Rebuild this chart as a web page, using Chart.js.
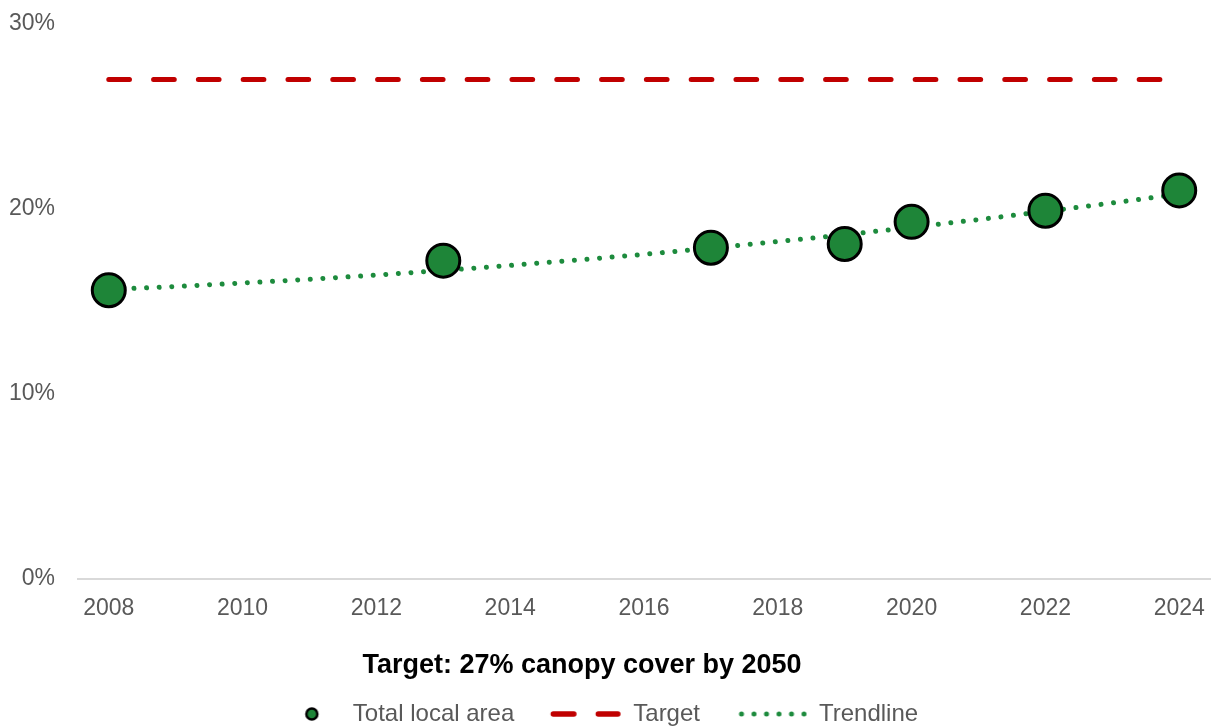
<!DOCTYPE html>
<html>
<head>
<meta charset="utf-8">
<title>Canopy cover</title>
<script src="https://cdn.jsdelivr.net/npm/chart.js@4.4.1/dist/chart.umd.min.js"></script>
<style>
    html, body { margin: 0; padding: 0; background: #fff; }
    #wrap { width: 1216px; height: 726px; position: relative; }
</style>
</head>
<body>
<div id="wrap"><canvas id="lineChart"></canvas></div>
<script>
// survey years and canopy cover (%)
var surveyYears = [2008, 2013, 2017, 2019, 2020, 2022, 2024];
var canopyCover = [15.6, 17.2, 17.9, 18.1, 19.3, 19.9, 21.0];

// target line
var targetYears = [2008, 2024];
var targetValues = [27, 27];

// trendline
var trendYears = [2008, 2009, 2010, 2011, 2012, 2013, 2014, 2015, 2016, 2017, 2018, 2019, 2020, 2021, 2022, 2023, 2024];
var trendValues = [15.64, 15.80, 15.99, 16.19, 16.42, 16.67, 16.94, 17.23, 17.54, 17.88, 18.23, 18.60, 19.00, 19.42, 19.86, 20.32, 20.80];

// axis ticks
var xTicks = [2008, 2010, 2012, 2014, 2016, 2018, 2020, 2022, 2024];
var yTicks = [0, 10, 20, 30];

var seriesNames = ["Total local area", "Target", "Trendline"];
var chartTitle = "Target: 27% canopy cover by 2050";

var GREEN = "#1e8538";
var DOT_GREEN = "#1d8b3d";
var RED = "#c00000";
var GREY = "#595959";

function toPoints(xs, ys) {
    return xs.map(function (x, i) { return { x: x, y: ys[i] }; });
}

// legend symbols, drawn into small canvases
function makeSymbol(draw) {
    var c = document.createElement("canvas");
    c.width = 120;
    c.height = 20;
    draw(c.getContext("2d"));
    return c;
}

var legendSymbols = [
    makeSymbol(function (g) {
        g.beginPath();
        g.arc(78.5, 10, 5.5, 0, Math.PI * 2);
        g.fillStyle = GREEN;
        g.fill();
        g.lineWidth = 2.5;
        g.strokeStyle = "#000";
        g.stroke();
    }),
    makeSymbol(function (g) {
        g.lineWidth = 5.5;
        g.lineCap = "round";
        g.strokeStyle = RED;
        g.beginPath();
        g.moveTo(39.5, 10); g.lineTo(60, 10);
        g.moveTo(84.5, 10); g.lineTo(104, 10);
        g.stroke();
    }),
    makeSymbol(function (g) {
        g.fillStyle = DOT_GREEN;
        for (var i = 0; i < 6; i++) {
            g.beginPath();
            g.arc(42 + i * 12.5, 10, 2.5, 0, Math.PI * 2);
            g.fill();
        }
    })
];

Chart.defaults.font.family = "'Liberation Sans', Arial, sans-serif";
Chart.defaults.color = GREY;

// nudge legend row and title to where they sit in the original
var boxShift = {
    id: "boxShift",
    afterLayout: function (chart) {
        if (chart.legend && chart.legend.lineWidths) {
            chart.legend.lineWidths[0] += 46;
        }
        if (chart.titleBlock) {
            chart.titleBlock.right -= 46;
        }
    }
};

var lineData = {
    datasets: [
        {
            label: seriesNames[0],
            data: toPoints(surveyYears, canopyCover),
            showLine: false,
            pointRadius: 16.5,
            pointBorderWidth: 3,
            pointBackgroundColor: GREEN,
            pointBorderColor: "#000"
        },
        {
            label: seriesNames[1],
            data: toPoints(targetYears, targetValues),
            showLine: true,
            pointRadius: 0,
            borderColor: RED,
            borderWidth: 5,
            borderDash: [20.7, 24.1],
            borderCapStyle: "round",
            fill: false
        },
        {
            label: seriesNames[2],
            data: toPoints(trendYears, trendValues),
            showLine: true,
            pointRadius: 0,
            borderColor: DOT_GREEN,
            borderWidth: 5,
            borderDash: [0.01, 12.6],
            borderCapStyle: "round",
            tension: 0,
            fill: false
        }
    ]
};

var lineOptions = {
    responsive: true,
    maintainAspectRatio: false,
    animation: false,
    events: [],
    layout: { autoPadding: false, padding: { top: 24, right: 6, bottom: -10, left: 0 } },
    scales: {
        x: {
            type: "linear",
            min: 2007.54,
            max: 2024.46,
            afterBuildTicks: function (scale) {
                scale.ticks = xTicks.map(function (v) { return { value: v }; });
            },
            afterFit: function (scale) {
                scale.height = 42;
                scale.paddingLeft = 0;
                scale.paddingRight = 0;
            },
            grid: { display: false, drawTicks: false },
            border: { display: true, color: "#d9d9d9", width: 2 },
            ticks: {
                padding: 16,
                color: GREY,
                font: { size: 23 },
                maxRotation: 0,
                autoSkip: false,
                callback: function (v) { return String(v); }
            }
        },
        y: {
            min: 0,
            max: 30,
            afterBuildTicks: function (scale) {
                scale.ticks = yTicks.map(function (v) { return { value: v }; });
            },
            afterFit: function (scale) {
                scale.width = 78;
                scale.paddingTop = 0;
                scale.paddingBottom = 0;
            },
            grid: { display: false, drawTicks: false },
            border: { display: false },
            ticks: {
                padding: 23,
                color: GREY,
                font: { size: 23 },
                callback: function (v) { return v + "%"; }
            }
        }
    },
    plugins: {
        tooltip: { enabled: false },
        title: {
            display: true,
            text: chartTitle,
            position: "bottom",
            weight: 500,
            color: "#000",
            font: { size: 27, weight: "bold" },
            padding: { top: 29, bottom: 8 }
        },
        legend: {
            display: true,
            position: "bottom",
            labels: {
                usePointStyle: true,
                pointStyleWidth: 95,
                padding: 12,
                color: GREY,
                font: { size: 24 },
                generateLabels: function (chart) {
                    var items = Chart.defaults.plugins.legend.labels.generateLabels(chart);
                    items.forEach(function (item, i) { item.pointStyle = legendSymbols[i]; });
                    return items;
                }
            }
        }
    }
};

var ctx = document.getElementById("lineChart").getContext("2d");
new Chart(ctx, { type: "scatter", data: lineData, options: lineOptions, plugins: [boxShift] });
</script>
</body>
</html>
